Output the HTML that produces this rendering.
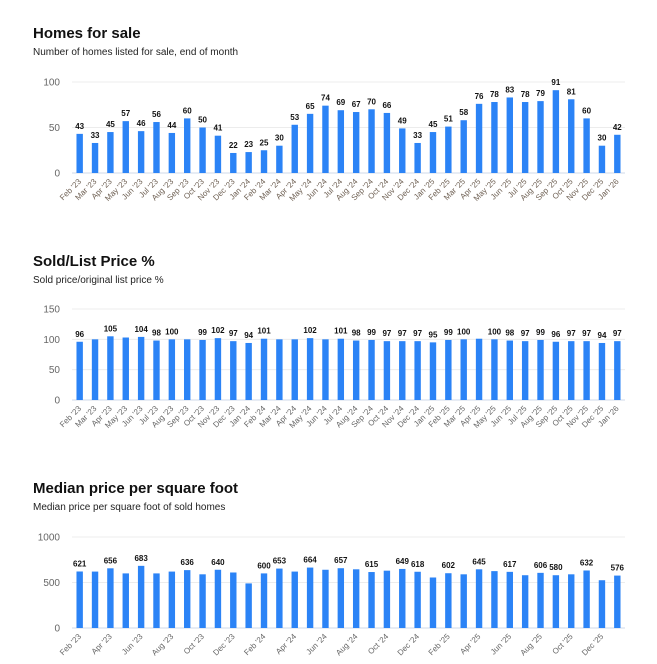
<!DOCTYPE html>
<html><head><meta charset="utf-8"><style>
body{margin:0;background:#fff;width:657px;height:664px;overflow:hidden;font-family:"Liberation Sans",sans-serif}
svg{display:block}
</style></head><body>
<svg id="s" width="657" height="664">
<text x="33" y="38" font-size="15" font-weight="bold" fill="#111">Homes for sale</text>
<text x="33" y="55" font-size="10" fill="#222">Number of homes listed for sale, end of month</text>
<text x="33" y="266" font-size="15" font-weight="bold" fill="#111">Sold/List Price %</text>
<text x="33" y="283" font-size="10" fill="#222">Sold price/original list price %</text>
<text x="33" y="493" font-size="15" font-weight="bold" fill="#111">Median price per square foot</text>
<text x="33" y="510" font-size="10" fill="#222">Median price per square foot of sold homes</text>
</svg>
<script>
const months = ["Feb '23","Mar '23","Apr '23","May '23","Jun '23","Jul '23","Aug '23","Sep '23","Oct '23","Nov '23","Dec '23","Jan '24","Feb '24","Mar '24","Apr '24","May '24","Jun '24","Jul '24","Aug '24","Sep '24","Oct '24","Nov '24","Dec '24","Jan '25","Feb '25","Mar '25","Apr '25","May '25","Jun '25","Jul '25","Aug '25","Sep '25","Oct '25","Nov '25","Dec '25","Jan '26"];
const homesValues = [43,33,45,57,46,56,44,60,50,41,22,23,25,30,53,65,74,69,67,70,66,49,33,45,51,58,76,78,83,78,79,91,81,60,30,42];
const homesTicks = [0,50,100];
const ratioValues = [96,100,105,103,104,98,100,100,99,102,97,94,101,100,100,102,100,101,98,99,97,97,97,95,99,100,101,100,98,97,99,96,97,97,94,97];
const ratioShown = [1,0,1,0,1,1,1,0,1,1,1,1,1,0,0,1,0,1,1,1,1,1,1,1,1,1,0,1,1,1,1,1,1,1,1,1];
const ratioTicks = [0,50,100,150];
const ppsfValues = [621,620,656,600,683,600,620,636,590,640,610,490,600,653,620,664,640,657,645,615,630,649,618,555,602,590,645,625,617,580,606,580,590,632,525,576];
const ppsfShown = [1,0,1,0,1,0,0,1,0,1,0,0,1,1,0,1,0,1,0,1,0,1,1,0,1,0,1,0,1,0,1,1,0,1,0,1];
const ppsfTicks = [0,500,1000];

const NS="http://www.w3.org/2000/svg";
const svg=document.getElementById('s');
function mk(tag,attrs,parent){const e=document.createElementNS(NS,tag);for(const k in attrs)e.setAttribute(k,attrs[k]);(parent||svg).appendChild(e);return e;}

function chart(prefix,vals,shown,ticks,maxV,top,base,labelStep,labelColor){
  const g=mk('g',{});
  
  
  const x0=72,x1=625,slot=(x1-x0)/vals.length;
  const y=v=>base-(v/maxV)*(base-top);
  const xc=i=>x0+slot*(i+0.5);
  ticks.forEach(t=>{
    const ln=mk('line',{x1:x0,x2:x1,y1:y(t),y2:y(t),stroke:t===0?'#cfd8ea':'#ececec','stroke-width':1},g);
    
    
    const tx=mk('text',{x:60,y:y(t)+3.5,'font-size':10,'text-anchor':'end',fill:'#666'},g);
    tx.textContent=t;
    
    
  });
  vals.forEach((v,i)=>{
    const r=mk('rect',{x:xc(i)-3.2,y:y(v),width:6.4,height:base-y(v),fill:'#2b83f6'},g);
    
    
    if(!shown||shown[i]){
      const t=mk('text',{x:xc(i),y:y(v)-5,'font-size':8,'font-weight':'bold','text-anchor':'middle',fill:'#111'},g);
      t.textContent=v;
      
      
    }
    if(i%labelStep===0){
      const t=mk('text',{x:xc(i)+2,y:base+9,'font-size':8,'text-anchor':'end',fill:labelColor,transform:`rotate(-45 ${xc(i)+2} ${base+9})`},g);
      t.textContent=months[i];
      
      
    }
  });
}
chart('homes',homesValues,null,homesTicks,100,82,173,1,'#6f6154');
chart('ratio',ratioValues,ratioShown,ratioTicks,150,309,400,1,'#666');
chart('ppsf',ppsfValues,ppsfShown,ppsfTicks,1000,537,628,2,'#666');
</script>
</body></html>
